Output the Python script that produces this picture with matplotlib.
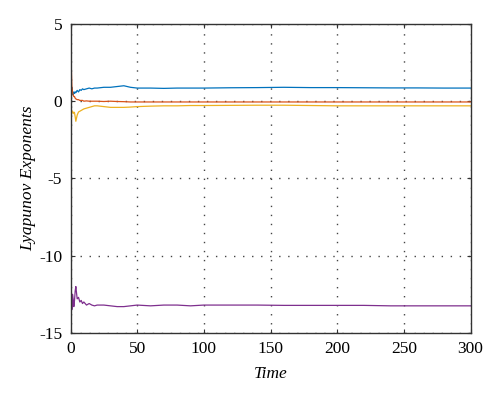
import matplotlib
matplotlib.use("Agg")
import matplotlib.pyplot as plt

# Time samples
t = [0, 0.5, 1, 1.5, 2, 2.5, 3, 3.5, 4, 5, 6, 7, 8, 9, 10, 12, 14, 16, 18, 20, 25, 30, 35, 40, 45, 50,
     60, 70, 80, 90, 100, 120, 140, 160, 180, 200, 220, 240, 260, 280, 300]

lyap1 = [-1.3, 0.2, 0.9, 0.5, 0.4, 0.6, 0.5, 0.6, 0.55, 0.7, 0.6, 0.75, 0.7, 0.8, 0.75, 0.8, 0.85, 0.8, 0.85, 0.85,
         0.9, 0.9, 0.95, 1.0, 0.9, 0.85, 0.85, 0.83, 0.85, 0.85, 0.85, 0.87, 0.88, 0.9, 0.88, 0.88, 0.87, 0.86, 0.86, 0.85, 0.85]
lyap2 = [4.0, 2.5, 1.0, 0.6, 0.4, 0.3, 0.3, 0.2, 0.15, 0.1, 0.1, 0.05, 0.05, 0.05, 0.0, 0.02, 0.0, 0.0, 0.0, 0.0,
         -0.02, 0.0, -0.02, -0.03, -0.05, -0.05, -0.05, -0.05, -0.05, -0.05, -0.05, -0.05, -0.05, -0.05, -0.05, -0.05,
         -0.05, -0.05, -0.05, -0.05, -0.05]
lyap3 = [-0.9, -0.7, -0.6, -0.7, -0.8, -0.7, -0.75, -1.0, -1.3, -0.9, -0.7, -0.65, -0.6, -0.55, -0.5, -0.45, -0.4,
         -0.35, -0.3, -0.3, -0.35, -0.4, -0.4, -0.4, -0.38, -0.35, -0.32, -0.3, -0.3, -0.28, -0.28, -0.27, -0.26,
         -0.26, -0.28, -0.3, -0.3, -0.3, -0.3, -0.3, -0.3]
lyap4 = [-14.5, -11.8, -13.5, -12.5, -12.8, -13.3, -12.9, -12.3, -12.0, -12.8, -12.7, -13.0, -12.9, -13.1, -13.0,
         -13.2, -13.1, -13.2, -13.25, -13.2, -13.2, -13.25, -13.3, -13.3, -13.25, -13.2, -13.25, -13.2, -13.2, -13.25,
         -13.2, -13.2, -13.2, -13.22, -13.22, -13.22, -13.22, -13.25, -13.25, -13.25, -13.25]

xticks = [0, 50, 100, 150, 200, 250, 300]
yticks = [-15, -10, -5, 0, 5]

plt.rcParams['font.family'] = ['Liberation Serif', 'DejaVu Serif']

fig = plt.figure(figsize=(5.0, 3.93), dpi=100)
ax = fig.add_axes([0.141, 0.153, 0.8, 0.786])

ax.plot(t, lyap1, color='#0072BD', lw=0.9)
ax.plot(t, lyap2, color='#D95319', lw=0.9)
ax.plot(t, lyap3, color='#EDB120', lw=0.9)
ax.plot(t, lyap4, color='#7E2F8E', lw=0.9)

ax.set_xlim(0, 300)
ax.set_ylim(-15, 5)
ax.set_xticks(xticks)
ax.set_yticks(yticks)
ax.set_yticklabels([str(v) for v in yticks])
ax.tick_params(direction='in', labelsize=12.5, length=3, color='#333333',
               top=True, right=True, pad=6)
ax.grid(True, color='#444444', linestyle=(0, (1, 5.5)), linewidth=1.0)
for s in ax.spines.values():
    s.set_color('#333333')
    s.set_linewidth(1.0)
ax.set_xlabel('Time', fontsize=12.5, style='italic', labelpad=6)
ax.set_ylabel('Lyapunov Exponents', fontsize=12.5, style='italic', labelpad=2)

fig.savefig('out.png', dpi=100)
